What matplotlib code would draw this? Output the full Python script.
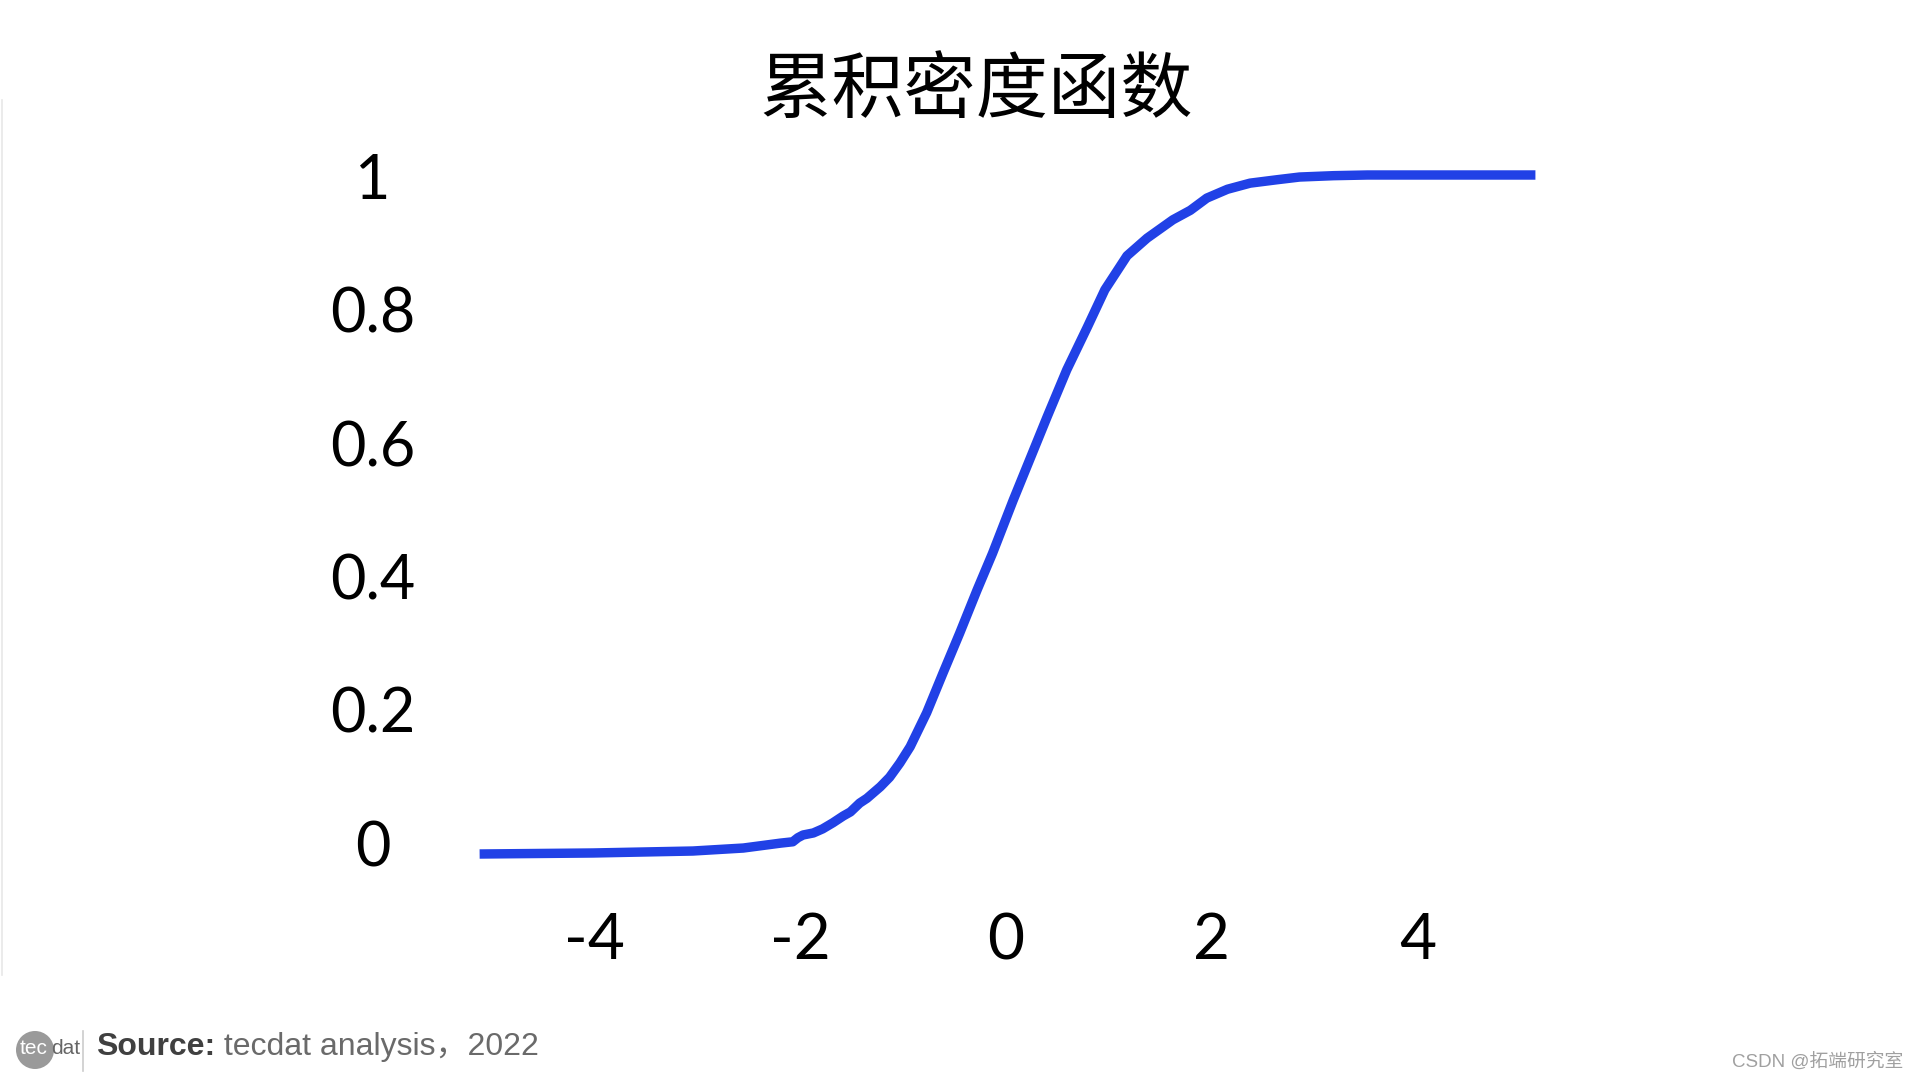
import matplotlib
matplotlib.use("Agg")
import matplotlib.pyplot as plt
from matplotlib.patches import Ellipse
from matplotlib.lines import Line2D

# Data
x_vals = [-5.11, -4.01, -3.04, -2.55, -2.19, -2.07, -2.02, -1.97, -1.87, -1.78,
          -1.68, -1.58, -1.51, -1.42, -1.35, -1.22, -1.13, -1.03, -0.93, -0.85,
          -0.77, -0.61, -0.45, -0.28, -0.13, 0.07, 0.40, 0.59, 0.79, 0.96,
          1.175, 1.37, 1.62, 1.79, 1.95, 2.15, 2.37, 2.63, 2.85, 3.18,
          3.51, 4.15, 5.14]
cdf_vals = [0.000, 0.0015, 0.0044, 0.0088, 0.016, 0.018, 0.024, 0.028, 0.031, 0.037,
            0.046, 0.056, 0.062, 0.075, 0.082, 0.099, 0.113, 0.134, 0.158, 0.183,
            0.208, 0.267, 0.325, 0.389, 0.443, 0.521, 0.644, 0.713, 0.776, 0.831,
            0.881, 0.907, 0.934, 0.948, 0.966, 0.979, 0.988, 0.993, 0.997, 0.999,
            1.000, 1.000, 1.000]
x_ticks = [-4, -2, 0, 2, 4]
x_tick_labels = ["-4", "-2", "0", "2", "4"]
y_ticks = [0, 0.2, 0.4, 0.6, 0.8, 1]
y_tick_labels = ["0", "0.2", "0.4", "0.6", "0.8", "1"]

title = "累积密度函数"
source_bold = "Source:"
source_rest = " tecdat analysis，2022"
watermark = "CSDN @拓端研究室"

W, H = 1920, 1080
fig = plt.figure(figsize=(19.2, 10.8), dpi=100)
fig.patch.set_facecolor("white")

# axes placed in pixels, converted to figure fractions
left, right, top, bottom = 400, 1600, 120, 905
ax = fig.add_axes([left / W, (H - bottom) / H, (right - left) / W, (bottom - top) / H])
ax.set_xlim(-5.883, 5.767)
ax.set_ylim(-0.0751, 1.081)
ax.axis("off")

ax.plot(x_vals, cdf_vals, color="#2141e6", lw=6.8, solid_joinstyle="round",
        solid_capstyle="butt")

tick_font = ["Lato", "DejaVu Sans"]
for t, lab in zip(x_ticks, x_tick_labels):
    ax.text(t, -0.0459, lab, transform=ax.get_xaxis_transform(), ha="center",
            va="center", fontsize=46, family=tick_font, color="black")
# the y labels sit on a slightly tighter spacing than the curve's scale
for t, lab in zip(y_ticks, y_tick_labels):
    ax.text(-0.0225, t * 0.982 + 0.008, lab, transform=ax.get_yaxis_transform(),
            ha="center", va="center", fontsize=44, family=tick_font, color="black")

fig.text(976 / W, 1 - 92 / H, title, ha="center", va="center", fontsize=52,
         family=["Noto Sans CJK SC", "DejaVu Sans"], color="black")

# faint left border line
fig.add_artist(Line2D([1.5 / W, 1.5 / W], [1 - 100 / H, 1 - 975 / H],
                      transform=fig.transFigure, color="#e8e8e8", lw=1.2))

# logo
fig.add_artist(Ellipse((35 / W, 1 - 1050 / H), 38 / W, 38 / H,
                       transform=fig.transFigure, color="#9a9a9a", lw=0))
fig.text(34 / W, 1 - 1049 / H, "tec", ha="center", va="center", fontsize=15,
         family=["Liberation Sans Narrow", "Liberation Sans"], color="white")
fig.text(51 / W, 1 - 1049 / H, "dat", ha="left", va="center", fontsize=15,
         family=["Liberation Sans Narrow", "Liberation Sans"], color="#666666")
fig.add_artist(Line2D([83 / W, 83 / W], [1 - 1031 / H, 1 - 1071 / H],
                      transform=fig.transFigure, color="#cccccc", lw=1.2))

src_font = ["Liberation Sans", "Noto Sans CJK SC"]
t1 = fig.text(96 / W, 1 - 1055 / H, source_bold, ha="left", va="baseline",
              fontsize=23, fontweight="bold", family=src_font, color="#404040")
fig.canvas.draw()
bb = t1.get_window_extent(renderer=fig.canvas.get_renderer())
fig.text(bb.x1 / W, 1 - 1055 / H, source_rest, ha="left", va="baseline",
         fontsize=23, family=src_font, color="#6a6a6a")

fig.text(1903 / W, 1 - 1062 / H, watermark, ha="right", va="center", fontsize=13.5,
         family=["Liberation Sans", "Noto Sans CJK SC"], color="#a0a0a0")

fig.savefig("out.png", dpi=100, facecolor="white")
